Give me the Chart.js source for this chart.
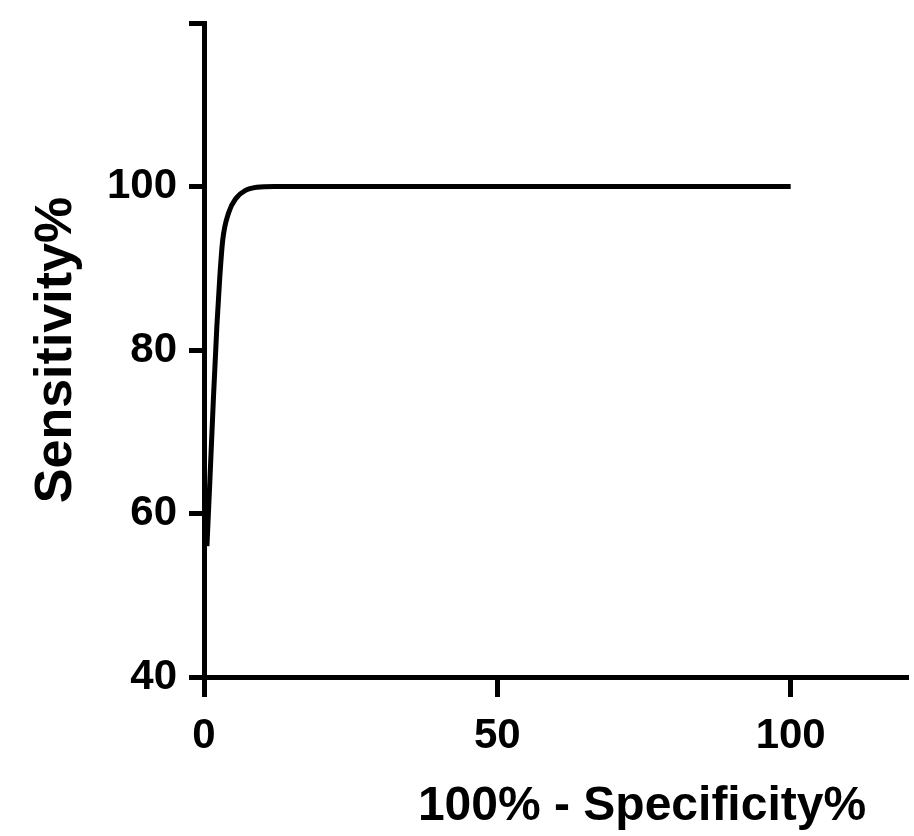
<!DOCTYPE html>
<html>
<head>
<meta charset="utf-8">
<title>ROC curve</title>
<script src="https://cdn.jsdelivr.net/npm/chart.js@4.4.1/dist/chart.umd.min.js"></script>
<style>
    html, body { margin: 0; padding: 0; background: #fff; }
    canvas { display: block; }
</style>
</head>
<body>
<canvas id="roc" width="914" height="836"></canvas>
<script>
// ROC curve: 100% - specificity (x) against sensitivity (y)
const specComplement = [0.5, 1.0, 1.6, 2.2, 2.7, 3.2, 4.2, 5.5, 7, 9, 12, 100];
const sensitivity    = [56, 64, 74, 83, 89, 93.5, 96.8, 98.6, 99.5, 99.9, 100, 100];

const xTicks = [0, 50, 100];
const yTicks = [40, 60, 80, 100, 120];

const xTitle = '100% - Specificity%';
const yTitle = 'Sensitivity%';

const FONT = '"Liberation Sans", Arial, sans-serif';

// the x title sits right of the axis centre in the original, so draw it ourselves
const xTitlePlugin = {
    id: 'xTitle',
    afterDraw(chart) {
        const ctx = chart.ctx;
        ctx.save();
        ctx.font = 'bold 48px ' + FONT;
        ctx.fillStyle = '#000';
        ctx.textAlign = 'center';
        ctx.textBaseline = 'alphabetic';
        ctx.fillText(xTitle, 642, 820);
        ctx.restore();
    }
};

const config = {
    type: 'line',
    data: {
        datasets: [{
            label: 'ROC',
            data: specComplement.map((x, i) => ({ x: x, y: sensitivity[i] })),
            borderColor: '#000',
            borderWidth: 5,
            pointRadius: 0,
            fill: false,
            cubicInterpolationMode: 'monotone'
        }]
    },
    options: {
        responsive: false,
        animation: false,
        layout: {
            padding: { left: 0, right: 6, top: 23, bottom: 0 }
        },
        plugins: {
            legend: { display: false },
            tooltip: { enabled: false }
        },
        scales: {
            x: {
                type: 'linear',
                min: 0,
                max: 120,
                afterFit: (scale) => {
                    scale.height = 159;
                    scale.paddingLeft = 0;
                    scale.paddingRight = 0;
                },
                afterBuildTicks: (scale) => { scale.ticks = xTicks.map(v => ({ value: v })); },
                border: { display: true, color: '#000', width: 5 },
                grid: {
                    drawOnChartArea: false,
                    drawTicks: true,
                    tickLength: 20,
                    tickWidth: 5,
                    tickColor: '#000'
                },
                ticks: {
                    color: '#000',
                    padding: 14,
                    maxRotation: 0,
                    font: { family: FONT, size: 42, weight: 'bold' }
                }
            },
            y: {
                min: 40,
                max: 120,
                // the empty 120 label should not push the plot down
                afterFit: (scale) => {
                    scale.width = 204;
                    scale.paddingTop = 0;
                    scale.paddingBottom = 0;
                },
                afterBuildTicks: (scale) => { scale.ticks = yTicks.map(v => ({ value: v })); },
                border: { display: true, color: '#000', width: 5 },
                grid: {
                    drawOnChartArea: false,
                    drawTicks: true,
                    tickLength: 15,
                    tickWidth: 5,
                    tickColor: '#000'
                },
                ticks: {
                    color: '#000',
                    padding: 12,
                    font: { family: FONT, size: 42, weight: 'bold' },
                    callback: (v) => v === 120 ? '' : v
                },
                title: {
                    display: true,
                    text: yTitle,
                    color: '#000',
                    padding: { top: 25, bottom: 0 },
                    font: { family: FONT, size: 52, weight: 'bold' }
                }
            }
        }
    },
    plugins: [xTitlePlugin]
};

new Chart(document.getElementById('roc'), config);
</script>
</body>
</html>
